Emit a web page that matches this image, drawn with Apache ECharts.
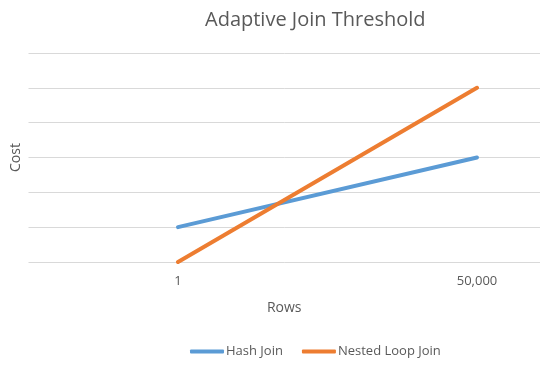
<!DOCTYPE html>
<html>
<head>
<meta charset="utf-8">
<script src="https://cdn.jsdelivr.net/npm/echarts@6/dist/echarts.min.js"></script>
<style>html,body{margin:0;padding:0;background:#fff}#c{width:540px;height:367px}</style>
</head>
<body>
<div id="c"></div>
<script>
var categories = ["1", "50,000"];
var hashJoin = [1, 3];
var nestedLoopJoin = [0, 5];
var yTicks = [0, 1, 2, 3, 4, 5, 6];

function pairs(arr) { return arr.map(function (v, i) { return [i, v]; }); }
var catIdx = categories.map(function (c, i) { return i; });

var chart = echarts.init(document.getElementById('c'), null, {renderer: 'canvas'});
var font = '"Open Sans", "Liberation Sans", sans-serif';
chart.setOption({
  animation: false,
  backgroundColor: '#ffffff',
  title: {
    text: 'Adaptive Join Threshold',
    left: 200, top: 5,
    textStyle: {color: '#595959', fontSize: 20, fontWeight: 'normal', fontFamily: font}
  },
  grid: {left: 28.5, top: 53, right: 0, height: 209, containLabel: false},
  legend: {
    bottom: 4, left: 185, width: 340,
    itemWidth: 34, itemHeight: 4, itemGap: 19,
    icon: 'roundRect',
    textStyle: {color: '#595959', fontSize: 13, fontFamily: font, padding: [0, 0, 0, -3]},
    data: ['Hash Join', 'Nested Loop Join']
  },
  xAxis: {
    type: 'value',
    min: -0.5, max: 1.2107,
    name: 'Rows',
    nameLocation: 'middle',
    nameGap: 39,
    nameTextStyle: {color: '#595959', fontSize: 14, fontFamily: font},
    axisLine: {show: false},
    axisTick: {show: false},
    splitLine: {show: false},
    axisLabel: {
      customValues: catIdx,
      formatter: function (v) { return categories[Math.round(v)]; },
      color: '#595959', fontSize: 13, fontFamily: font, margin: 13
    }
  },
  yAxis: {
    type: 'value',
    min: yTicks[0], max: yTicks[yTicks.length - 1], interval: 1,
    name: 'Cost',
    nameLocation: 'middle',
    nameGap: 5,
    nameTextStyle: {color: '#595959', fontSize: 14, fontFamily: font},
    axisLine: {show: false},
    axisTick: {show: false},
    axisLabel: {show: false},
    splitLine: {lineStyle: {color: '#d9d9d9', width: 1}}
  },
  series: [
    {name: 'Hash Join', type: 'line', data: pairs(hashJoin), symbol: 'none',
     color: '#5b9bd5', lineStyle: {width: 4, color: '#5b9bd5', cap: 'round'}},
    {name: 'Nested Loop Join', type: 'line', data: pairs(nestedLoopJoin), symbol: 'none',
     color: '#ed7d31', lineStyle: {width: 4, color: '#ed7d31', cap: 'round'}}
  ]
});
</script>
</body>
</html>
